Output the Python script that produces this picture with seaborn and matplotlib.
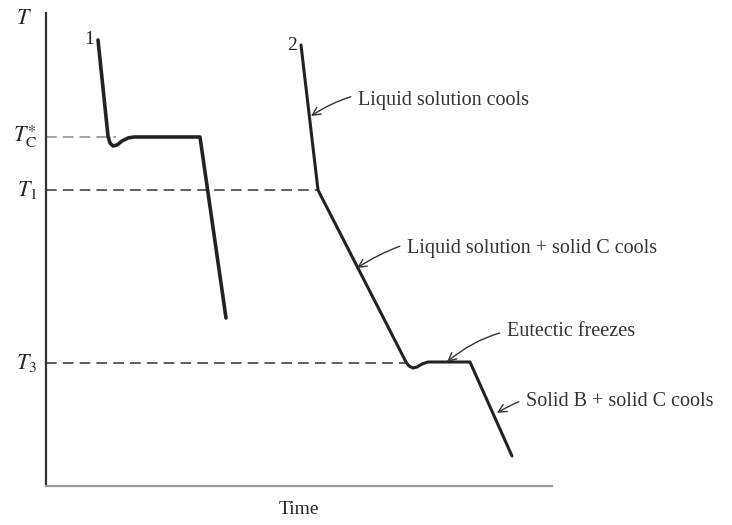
import pandas as pd
import matplotlib.pyplot as plt
import seaborn as sns

sns.set_style("white")
plt.rcParams['font.family'] = ['Liberation Serif', 'DejaVu Serif']
plt.rcParams['mathtext.fontset'] = 'stix'

# cooling curve 1 (pure C): time, temperature (arbitrary units)
time_1 = [52, 62, 64, 67, 71, 76, 82, 88, 154, 180]
temp_1 = [446, 350, 343, 340, 341, 345, 348, 349, 349, 168]

# cooling curve 2 (B/C mixture)
time_2 = [255, 272, 360, 363, 367, 371, 376, 382, 424, 466]
temp_2 = [441, 296, 124, 120, 118, 119, 122, 124, 124, 30]

# reference temperatures
ref_labels = ['$T_\\mathrm{C}^{\\ast}$', '$T_1$', '$T_3$']
ref_temps = [349, 296, 123]
ref_ends = [70, 272, 362]

# annotations: text, text position, arrow target
notes = ['Liquid solution cools', 'Liquid solution + solid C cools',
         'Eutectic freezes', 'Solid B + solid C cools']
note_xy = [(312, 386), (361, 238), (461, 154), (480, 84)]
note_tip = [(265, 370), (311, 218), (401, 124), (451, 73)]

fig = plt.figure(figsize=(7.32, 5.25), dpi=100)
ax = fig.add_axes([46 / 732, 39 / 525, 506 / 732, 473 / 525])

df1 = pd.DataFrame({'time': time_1, 'T': temp_1})
df2 = pd.DataFrame({'time': time_2, 'T': temp_2})
sns.lineplot(data=df1, x='time', y='T', sort=False, color='#222222', lw=2.6, ax=ax)
sns.lineplot(data=df2, x='time', y='T', sort=False, color='#222222', lw=2.2, ax=ax)

for i, (lab, t, xe) in enumerate(zip(ref_labels, ref_temps, ref_ends)):
    col = '#888888' if i == 0 else '#333333'
    ax.plot([0, xe], [t, t], ls=(0, (7, 4)), color=col, lw=1.1, zorder=1)
    ax.text(-9, t, lab, ha='right', va='center', fontsize=16, clip_on=False)

ax.text(-14, 466, '$T$', ha='right', va='center', fontsize=16, clip_on=False)
ax.text(48, 446, '1', ha='right', va='center', fontsize=14)
ax.text(251, 440, '2', ha='right', va='center', fontsize=14)

for txt, xy, tip in zip(notes, note_xy, note_tip):
    ax.annotate(txt, xy=tip, xytext=xy, ha='left', va='center', fontsize=14.5,
                color='#333333', annotation_clip=False,
                arrowprops=dict(arrowstyle='->', color='#333333', lw=1.0,
                                shrinkA=3, shrinkB=0,
                                connectionstyle='arc3,rad=0.25'))

ax.set_xlim(0, 506)
ax.set_ylim(0, 473)
ax.set_xticks([])
ax.set_yticks([])
ax.set_xlabel('Time', fontsize=14, labelpad=11)
ax.set_ylabel('')
sns.despine(ax=ax)
ax.spines['left'].set_color('#333333')
ax.spines['bottom'].set_color('#999999')
ax.spines['left'].set_linewidth(1.6)
ax.spines['bottom'].set_linewidth(1.6)

fig.savefig('out.png', dpi=100)
